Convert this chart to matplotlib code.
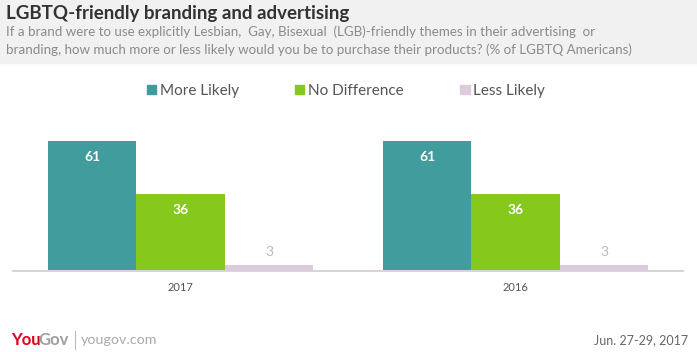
"""YouGov style grouped bar chart: LGBTQ-friendly branding and advertising."""

import matplotlib.pyplot as plt
import numpy as np
from matplotlib.patches import Patch, Rectangle

plt.rcParams["font.family"] = ["Lato", "DejaVu Sans"]

years = ["2017", "2016"]
series = ["More Likely", "No Difference", "Less Likely"]
more_likely = [61, 61]
no_difference = [36, 36]
less_likely = [3, 3]
colors = ["#419c9d", "#86c81c", "#dccbdc"]
label_colors = ["white", "white", "#bbbbbb"]

W, H = 697, 352
fig = plt.figure(figsize=(W / 100, H / 100), dpi=100)

# header band
fig.patches.append(Rectangle((0, 1 - 63 / H), 1, 63 / H, transform=fig.transFigure,
                             color="#f1f1f1", zorder=0))
fig.text(6 / W, 1 - 13 / H, "LGBTQ-friendly branding and advertising", fontsize=13.5,
         fontweight="bold", color="#333333", va="center")
fig.text(6 / W, 1 - 32 / H,
         "If a brand were to use explicitly Lesbian,  Gay, Bisexual  (LGB)-friendly themes in their advertising  or",
         fontsize=9.6, color="#8a8a8a", va="center")
fig.text(6 / W, 1 - 50 / H,
         "branding, how much more or less likely would you be to purchase their products? (% of LGBTQ Americans)",
         fontsize=9.6, color="#8a8a8a", va="center")

ax = fig.add_axes([13 / W, 1 - 271 / H, 670 / W, 149 / H])
x = np.arange(len(years))
width = 0.264
for i, vals in enumerate([more_likely, no_difference, less_likely]):
    offs = (i - 1) * width
    ax.bar(x + offs, vals, width=width, color=colors[i], linewidth=0)
    for xi, v in zip(x, vals):
        if i < 2:
            ax.text(xi + offs, v - 7.5, str(v), ha="center", va="center",
                    fontsize=10, fontweight="bold", color=label_colors[i])
        else:
            ax.text(xi + offs, v + 6, str(v), ha="center", va="center",
                    fontsize=10, color=label_colors[i])

ax.set_xlim(-0.5, 1.5)
ax.set_ylim(0, 70)
ax.set_xticks(x)
ax.set_xticklabels(years, fontsize=8, color="#555555")
ax.tick_params(axis="x", length=0, pad=8)
ax.set_yticks([])
for side in ["top", "left", "right"]:
    ax.spines[side].set_visible(False)
ax.spines["bottom"].set_color("#d8d3dc")
ax.spines["bottom"].set_linewidth(1.5)

handles = [Patch(color=c, label=s) for c, s in zip(colors, series)]
fig.legend(handles=handles, loc="center", bbox_to_anchor=(346 / W, 1 - 91 / H), ncol=3,
           frameon=False, fontsize=11, handlelength=0.6, handleheight=0.6,
           handletextpad=0.25, columnspacing=3.7, labelcolor="#555555")

# footer
fig.text(11 / W, 1 - 340 / H, "You", fontsize=12, fontweight="bold", color="#e1001a", va="center")
fig.text(38 / W, 1 - 340 / H, "Gov", fontsize=12, fontweight="bold", color="#a0a0a0", va="center")
fig.lines.append(plt.Line2D([75 / W, 75 / W], [1 - 331 / H, 1 - 349 / H],
                            transform=fig.transFigure, color="#bbbbbb", linewidth=0.8))
fig.text(81 / W, 1 - 340 / H, "yougov.com", fontsize=10.3, color="#aaaaaa", va="center")
fig.text(688 / W, 1 - 340 / H, "Jun. 27-29, 2017", fontsize=9, color="#666666",
         va="center", ha="right")

fig.savefig("out.png", dpi=100)
